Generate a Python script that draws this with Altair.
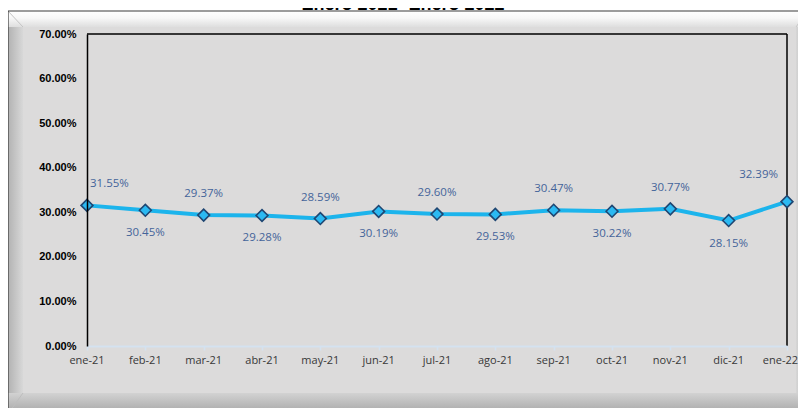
import altair as alt
import pandas as pd

titulo = ["Enero 2021- Enero 2022"]
meses = ["ene-21", "feb-21", "mar-21", "abr-21", "may-21", "jun-21", "jul-21",
         "ago-21", "sep-21", "oct-21", "nov-21", "dic-21", "ene-22"]
valores = [31.55, 30.45, 29.37, 29.28, 28.59, 30.19, 29.60,
           29.53, 30.47, 30.22, 30.77, 28.15, 32.39]
y_ticks = [0.0, 0.1, 0.2, 0.3, 0.4, 0.5, 0.6, 0.7]

df = pd.DataFrame({
    "mes": meses,
    "valor": [v / 100 for v in valores],
    "idx": list(range(len(meses))),
})
df["lado"] = ["arriba" if i % 2 == 0 else "abajo" for i in df["idx"]]
LAST = len(meses) - 1

W, H = 700, 312
GRAY = "#dcdbdb"
LABEL_FONT = "Open Sans"

x_enc = alt.X(
    "mes:O", sort=meses, title=None,
    scale=alt.Scale(type="point", padding=0),
    axis=alt.Axis(labels=False,
                  domainColor="#d4e2f0", domainWidth=2,
                  tickColor="#d4e2f0", tickSize=4, tickWidth=1.5,
                  grid=False, zindex=2),
)
y_enc = alt.Y(
    "valor:Q", title=None,
    scale=alt.Scale(domain=[0, 0.7], nice=False, zero=True),
    axis=alt.Axis(values=y_ticks, format=".2%", labelFont="Liberation Sans",
                  labelFontWeight="bold", labelFontSize=11, labelColor="#000000",
                  labelPadding=11, ticks=False, domainColor="#000000",
                  domainWidth=1.5, grid=False, zindex=2),
)

deco = pd.DataFrame({"k": [0]})


def rect(x1, x2, y1, y2, **kw):
    return alt.Chart(deco).mark_rect(**kw).encode(
        x=alt.value(x1), x2=alt.value(x2), y=alt.value(y1), y2=alt.value(y2))


def rule(x1, x2, y1, y2, **kw):
    return alt.Chart(deco).mark_rule(**kw).encode(
        x=alt.value(x1), x2=alt.value(x2), y=alt.value(y1), y2=alt.value(y2))


def vgrad(c1, c2, mid=None):
    stops = [alt.GradientStop(color=c1, offset=0)]
    if mid:
        stops.append(alt.GradientStop(color=mid[0], offset=mid[1]))
    stops.append(alt.GradientStop(color=c2, offset=1))
    return alt.Gradient(gradient="linear", stops=stops, x1=0, x2=0, y1=0, y2=1)


def hgrad(c1, c2):
    return alt.Gradient(gradient="linear",
                        stops=[alt.GradientStop(color=c1, offset=0),
                               alt.GradientStop(color=c2, offset=1)],
                        x1=0, x2=1, y1=0, y2=0)


frame = [
    rect(-90, 730, -40, -23, fill="#ffffff"),
    rect(-79, 720, -23, -7, fill=vgrad("#ffffff", "#dedede", ("#f7f7f7", 0.45))),
    rect(-79, -64, -7, 359, fill=hgrad("#b2b2b2", "#d8d8d8")),
    rect(-79, 720, 359, 380, fill=vgrad("#d2d2d2", "#a6a6a6")),
    rect(709, 720, -7, 359, fill=hgrad("#d6d6d6", "#b4b4b4")),
    rule(-79, -64, -23, -7, color="#c4c4c4", strokeWidth=1),
    rule(-79, -64, 380, 359, color="#bdbdbd", strokeWidth=1),
    rule(720, 709, -23, -7, color="#c8c8c8", strokeWidth=1),
    rect(-79, 730, -23, 390, fill=None, stroke="#3a3a3a", strokeWidth=1.2),
    rule(0, W, 0, 0, color="#000000", strokeWidth=1.5),
    rule(W, W, 0, H, color="#000000", strokeWidth=1.5),
]

base = alt.Chart(df)

line = base.mark_line(color="#1cb4ec", strokeWidth=4).encode(x=x_enc, y=y_enc)
points = base.mark_point(shape="diamond", size=140, filled=True, fill="#2bb9f2",
                         stroke="#1f4672", strokeWidth=1.6, opacity=1).encode(
    x=x_enc, y=y_enc)

# month labels along the x axis (drawn as text so the last one can stay inside)
xl_kw = dict(font=LABEL_FONT, fontSize=11, color="#383838", baseline="top")
xlab_mid = base.transform_filter(alt.datum.idx < LAST).mark_text(
    align="center", **xl_kw).encode(x=x_enc, y=alt.value(H + 9), text="mes:N")
xlab_last = base.transform_filter(alt.datum.idx == LAST).mark_text(
    align="right", dx=11, **xl_kw).encode(x=x_enc, y=alt.value(H + 9), text="mes:N")

lab_kw = dict(font=LABEL_FONT, fontSize=11.5, color="#44649a", baseline="middle")
txt = alt.Text("valor:Q", format=".2%")

lab_first = base.transform_filter(alt.datum.idx == 0).mark_text(
    align="left", dx=3, dy=-21, **lab_kw).encode(x=x_enc, y=y_enc, text=txt)
lab_last = base.transform_filter(alt.datum.idx == LAST).mark_text(
    align="right", dx=-9, dy=-27, **lab_kw).encode(x=x_enc, y=y_enc, text=txt)
lab_up = base.transform_filter(
    (alt.datum.lado == "arriba") & (alt.datum.idx > 0) & (alt.datum.idx < LAST)
).mark_text(align="center", dy=-21, **lab_kw).encode(x=x_enc, y=y_enc, text=txt)
lab_down = base.transform_filter(alt.datum.lado == "abajo").mark_text(
    align="center", dy=23, **lab_kw).encode(x=x_enc, y=y_enc, text=txt)

title = alt.Chart(pd.DataFrame({"t": titulo})).mark_text(
    font="Liberation Sans", fontSize=18, fontWeight="bold", color="#000000",
    align="center", baseline="alphabetic").encode(
    x=alt.value(316), y=alt.value(-24), text="t:N")

chart = alt.layer(
    *frame, line, points, xlab_mid, xlab_last,
    lab_first, lab_last, lab_up, lab_down, title
).properties(
    width=W, height=H,
    autosize=alt.AutoSizeParams(type="none"),
    padding={"left": 79, "top": 26, "right": 11, "bottom": 62},
).configure(background=GRAY).configure_view(stroke=None)

chart.save("out.html", embed_options={"renderer": "svg", "actions": False})
